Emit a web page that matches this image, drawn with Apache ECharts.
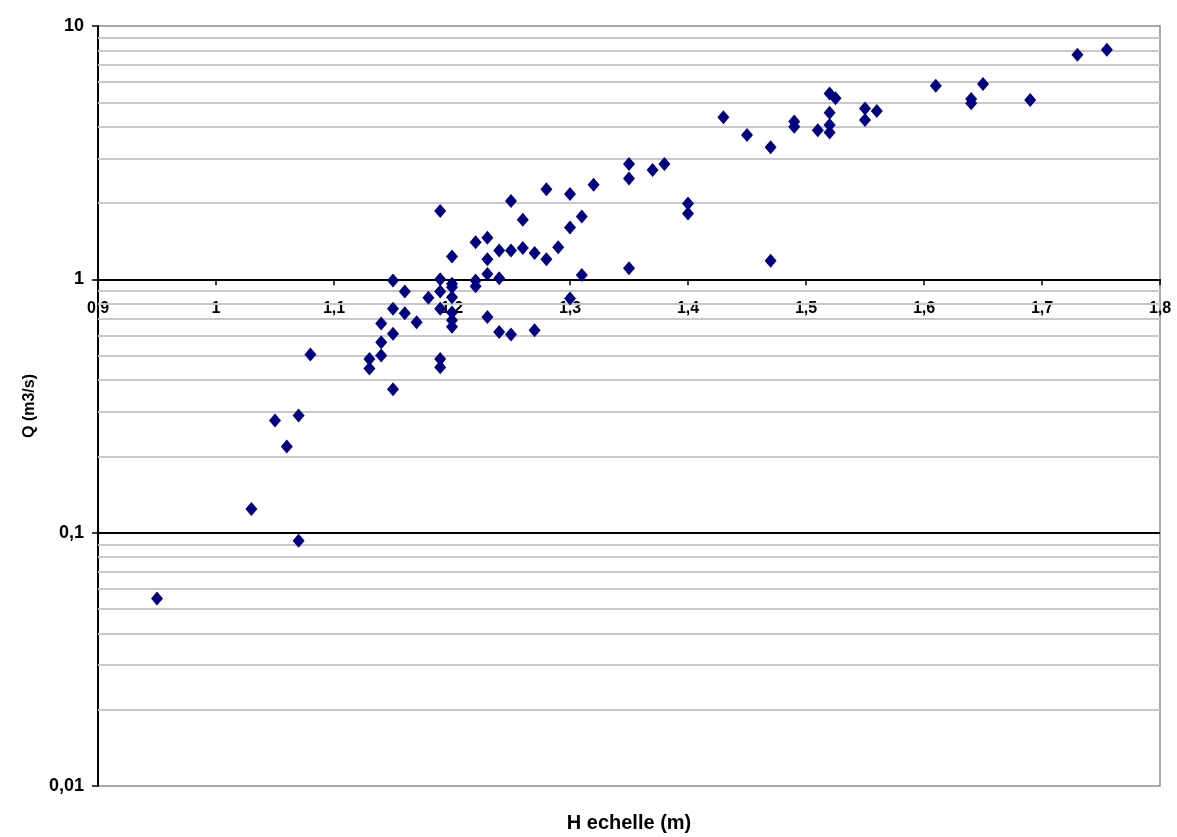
<!DOCTYPE html>
<html>
<head>
<meta charset="utf-8">
<script src="https://cdn.jsdelivr.net/npm/echarts@6/dist/echarts.min.js"></script>
<style>
  html, body { margin: 0; padding: 0; background: #fff; }
  #main { width: 1177px; height: 837px; }
</style>
</head>
<body>
<div id="main"></div>
<script>
// H echelle (m) / Q (m3/s) gaugings
var hValues = [
  0.95, 1.03, 1.05, 1.06, 1.07, 1.07, 1.08,
  1.13, 1.13, 1.14, 1.14, 1.14,
  1.15, 1.15, 1.15, 1.15, 1.16, 1.16, 1.17, 1.18,
  1.19, 1.19, 1.19, 1.19, 1.19, 1.19,
  1.2, 1.2, 1.2, 1.2, 1.2, 1.2, 1.2,
  1.22, 1.22, 1.22, 1.23, 1.23, 1.23, 1.23,
  1.24, 1.24, 1.24, 1.25, 1.25, 1.25,
  1.26, 1.26, 1.27, 1.27, 1.28, 1.28, 1.29,
  1.30, 1.30, 1.30, 1.31, 1.31, 1.32,
  1.35, 1.35, 1.35, 1.37, 1.38, 1.40, 1.40,
  1.43, 1.45, 1.47, 1.47, 1.49, 1.49, 1.51,
  1.52, 1.525, 1.52, 1.52, 1.52,
  1.55, 1.55, 1.56,
  1.61, 1.64, 1.64, 1.65, 1.69, 1.73, 1.755
];
var qValues = [
  0.055, 0.124, 0.277, 0.219, 0.29, 0.093, 0.505,
  0.485, 0.445, 0.67, 0.565, 0.50,
  0.99, 0.765, 0.61, 0.368, 0.895, 0.735, 0.677, 0.845,
  1.86, 1.0, 0.895, 0.765, 0.485, 0.45,
  1.23, 0.96, 0.93, 0.85, 0.74, 0.69, 0.65,
  1.40, 0.99, 0.94, 1.46, 1.20, 1.05, 0.71,
  1.30, 1.01, 0.62, 2.04, 1.30, 0.605,
  1.72, 1.33, 1.27, 0.63, 2.27, 1.20, 1.34,
  2.17, 1.60, 0.84, 1.77, 1.04, 2.36,
  2.85, 2.50, 1.105, 2.70, 2.85, 1.99, 1.82,
  4.36, 3.71, 3.32, 1.185, 4.20, 4.00, 3.88,
  5.42, 5.19, 4.55, 4.07, 3.80,
  4.72, 4.26, 4.62,
  5.81, 5.15, 4.95, 5.90, 5.10, 7.70, 8.05
];
var xTicks = { min: 0.9, max: 1.8, interval: 0.1 };
var yTicks = { min: 0.01, max: 10 };
var decades = [0.01, 0.1, 1];

var points = hValues.map(function (h, i) { return [h, qValues[i]]; });

// minor gridlines 2..9 in each decade
var minorLines = [];
decades.forEach(function (d) {
  for (var k = 2; k <= 9; k++) {
    minorLines.push({ yAxis: Number((k * d).toPrecision(3)) });
  }
});

function comma(v) {
  return String(Number(v.toFixed(3))).replace('.', ',');
}

var chart = echarts.init(document.getElementById('main'));

var option = {
  animation: false,
  backgroundColor: '#fff',
  grid: {
    left: 98, right: 17, top: 26, bottom: 51,
    containLabel: false,
    outerBoundsMode: 'none',
    show: true,
    borderColor: '#8c8c8c',
    borderWidth: 1.5
  },
  xAxis: {
    type: 'value',
    min: xTicks.min,
    max: xTicks.max,
    interval: xTicks.interval,
    name: 'H echelle (m)',
    nameLocation: 'middle',
    nameGap: 40,
    nameTextStyle: {
      fontFamily: 'Liberation Sans', fontWeight: 'bold', fontSize: 20, color: '#000'
    },
    axisLine: { onZero: false, lineStyle: { color: '#000', width: 2 } },
    axisTick: { show: true, length: 6, lineStyle: { color: '#000', width: 1.5 } },
    axisLabel: {
      margin: 21,
      showMinLabel: true,
      showMaxLabel: true,
      fontFamily: 'Liberation Sans', fontWeight: 'bold', fontSize: 16, color: '#000',
      formatter: comma
    },
    splitLine: { show: false }
  },
  yAxis: {
    type: 'log',
    logBase: 10,
    min: yTicks.min,
    max: yTicks.max,
    name: 'Q (m3/s)',
    nameLocation: 'middle',
    nameRotate: 90,
    nameGap: 60,
    nameTextStyle: {
      fontFamily: 'Liberation Sans', fontWeight: 'bold', fontSize: 16, color: '#000'
    },
    axisLine: { show: true, lineStyle: { color: '#000', width: 2 } },
    axisTick: { show: true, length: 6, lineStyle: { color: '#000', width: 1.5 } },
    axisLabel: {
      margin: 14,
      fontFamily: 'Liberation Sans', fontWeight: 'bold', fontSize: 18, color: '#000',
      formatter: comma
    },
    splitLine: { show: false }
  },
  series: [{
    name: 'grid',
    type: 'scatter',
    data: [],
    silent: true,
    z: 1,
    markLine: {
      silent: true,
      symbol: ['none', 'none'],
      label: { show: false },
      animation: false,
      lineStyle: { color: '#c8c8c8', width: 2, type: 'solid' },
      data: minorLines.concat([
        { yAxis: 0.1, lineStyle: { color: '#000', width: 2, type: 'solid' } }
      ])
    }
  }, {
    name: 'Q',
    type: 'scatter',
    symbol: 'diamond',
    symbolSize: [12, 14],
    itemStyle: { color: '#000080', opacity: 1 },
    z: 5,
    data: points
  }]
};

chart.setOption(option);

// move the x axis up so it crosses at Q = 1, keep its title at the bottom
var yAtOne = chart.convertToPixel({ yAxisIndex: 0 }, 1);
var yBottom = chart.convertToPixel({ yAxisIndex: 0 }, yTicks.min);
chart.setOption({
  xAxis: {
    offset: -(yBottom - yAtOne),
    nameGap: 813 - yAtOne
  }
});
</script>
</body>
</html>
